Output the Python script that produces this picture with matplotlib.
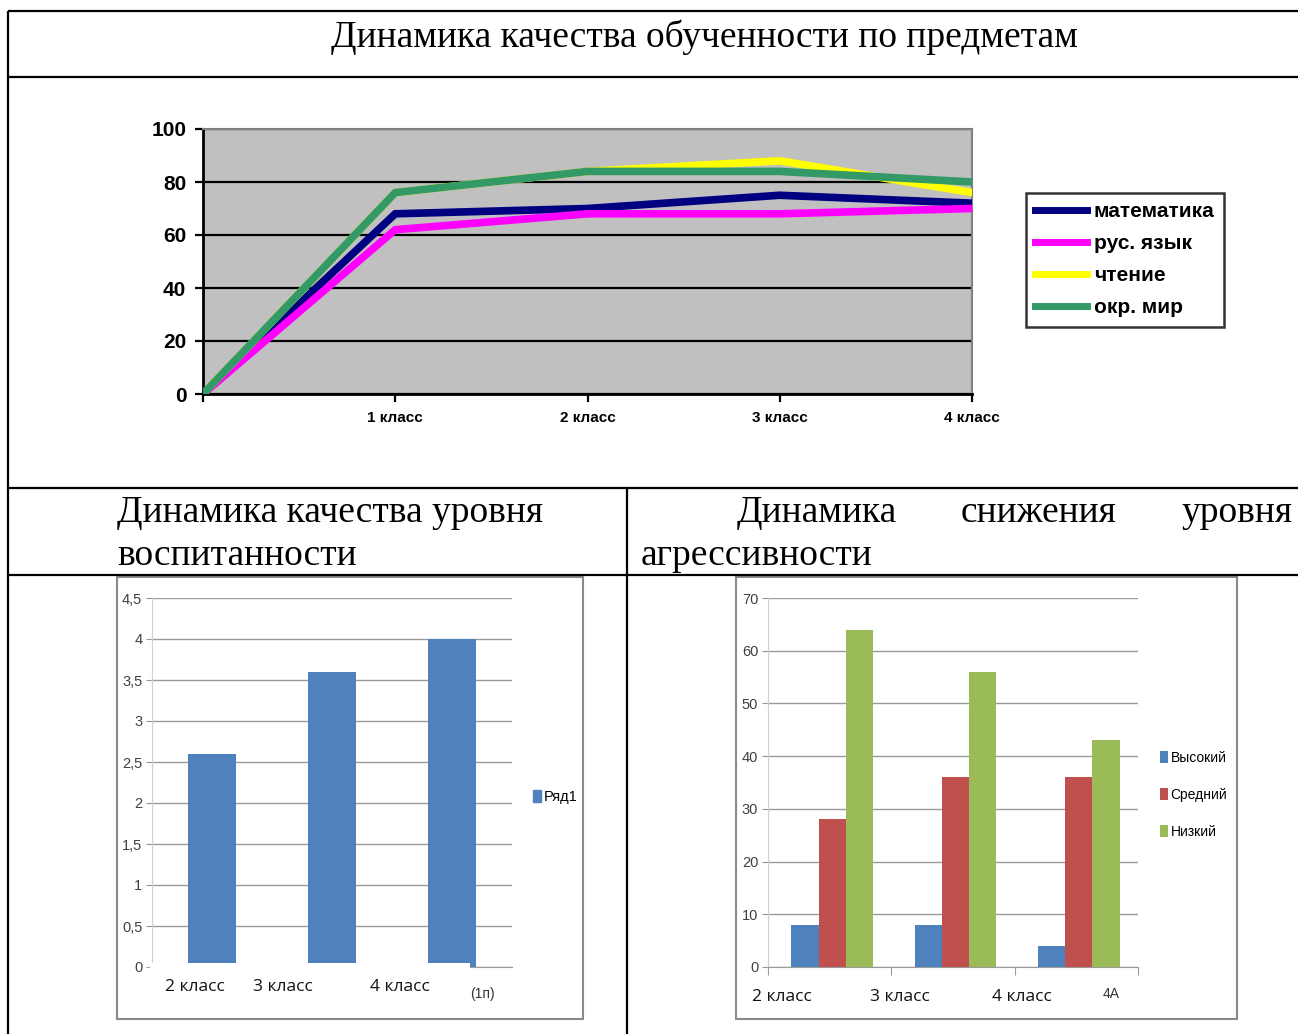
import matplotlib
matplotlib.use("Agg")
import matplotlib.pyplot as plt
import numpy as np
from matplotlib.patches import Rectangle, Patch

# ---------------- data ----------------
grades_top = ["", "1 класс", "2 класс", "3 класс", "4 класс"]
math_vals = [0, 68, 70, 75, 72]
rus_vals = [0, 62, 68, 68, 70]
read_vals = [0, 76, 84, 88, 76]
world_vals = [0, 76, 84, 84, 80]
subjects = ["математика", "рус. язык", "чтение", "окр. мир"]

upbr_cats = ["2 класс", "3 класс", "4 класс"]
upbr_vals = [2.6, 3.6, 4.0]
upbr_series = "Ряд1"

aggr_cats = ["2 класс", "3 класс", "4 класс"]
aggr_high = [8, 8, 4]
aggr_mid = [28, 36, 36]
aggr_low = [64, 56, 43]
aggr_names = ["Высокий", "Средний", "Низкий"]

W, H = 1298, 1034
fig = plt.figure(figsize=(W / 100, H / 100), dpi=100)
fig.patch.set_facecolor("white")

def box(x0, y0, x1, y1):
    return [x0 / W, 1 - y1 / H, (x1 - x0) / W, (y1 - y0) / H]

# background axes for table lines and text
bg = fig.add_axes([0, 0, 1, 1], zorder=0)
bg.set_xlim(0, W)
bg.set_ylim(H, 0)
bg.axis("off")

lk = dict(color="black", lw=1.6, solid_capstyle="butt")
bg.plot([8, W], [11, 11], **lk)
bg.plot([8, W], [77, 77], **lk)
bg.plot([8, W], [488, 488], **lk)
bg.plot([8, W], [575, 575], **lk)
bg.plot([8, 8], [11, H], **lk)
bg.plot([627, 627], [488, H], **lk)

serif = ["Liberation Serif", "DejaVu Serif"]
fs_h = 27
bg.text(704, 37, "Динамика качества обученности по предметам", family=serif,
        fontsize=fs_h, ha="center", va="center")
bg.text(117, 513, "Динамика качества уровня", family=serif, fontsize=fs_h,
        ha="left", va="center")
bg.text(117, 556, "воспитанности", family=serif, fontsize=fs_h, ha="left", va="center")
bg.text(737, 513, "Динамика", family=serif, fontsize=fs_h, ha="left", va="center")
bg.text(1039, 513, "снижения", family=serif, fontsize=fs_h, ha="center", va="center")
bg.text(1293, 513, "уровня", family=serif, fontsize=fs_h, ha="right", va="center")
bg.text(641, 556, "агрессивности", family=serif, fontsize=fs_h, ha="left", va="center")

# chart frames for the lower charts
bg.add_patch(Rectangle((117, 577), 466, 442, fill=False, ec="#8a8a8a", lw=1.5))
bg.add_patch(Rectangle((736, 577), 501, 442, fill=False, ec="#8a8a8a", lw=1.5))

# ---------------- top line chart ----------------
sans = ["Liberation Sans", "DejaVu Sans"]
ax1 = fig.add_axes(box(203, 129, 972, 394), zorder=2)
ax1.set_facecolor("#C0C0C0")
x = np.arange(len(grades_top))
colors_top = ["#000080", "#FF00FF", "#FFFF00", "#339966"]
for vals, c, name in zip([math_vals, rus_vals, read_vals, world_vals], colors_top, subjects):
    ax1.plot(x, vals, color=c, lw=5.5, label=name, solid_joinstyle="miter", zorder=3)
ax1.set_xlim(0, 4)
ax1.set_ylim(0, 100)
ax1.set_yticks(range(0, 101, 20))
ax1.set_xticks(x)
ax1.set_xticklabels(grades_top, fontweight="bold", fontsize=11, family=sans)
for lab in ax1.get_yticklabels():
    lab.set_fontweight("bold"); lab.set_fontsize(15); lab.set_family(sans)
ax1.grid(axis="y", color="black", lw=1.6, zorder=1)
ax1.set_axisbelow(True)
for s in ["top", "right"]:
    ax1.spines[s].set_color("#808080")
    ax1.spines[s].set_linewidth(1.5)
for s in ["left", "bottom"]:
    ax1.spines[s].set_color("black")
    ax1.spines[s].set_linewidth(2)
ax1.tick_params(axis="both", direction="out", length=6, width=1.6, color="black")
ax1.tick_params(axis="x", pad=6)
ax1.tick_params(axis="y", pad=6)
leg = ax1.legend(loc="upper left", bbox_to_anchor=(1026 / W, 1 - 193 / H),
                 bbox_transform=fig.transFigure, borderaxespad=0, frameon=True,
                 fancybox=False, edgecolor="black", handlelength=2.5,
                 handletextpad=0.3, labelspacing=0.62, borderpad=0.45,
                 prop=dict(family=sans, weight="bold", size=15))
leg.get_frame().set_linewidth(1.8)
for h in leg.get_lines():
    h.set_linewidth(5)

# ---------------- lower-left bar chart ----------------
narrow = ["Liberation Sans Narrow", "Liberation Sans", "DejaVu Sans"]
ax2 = fig.add_axes(box(152, 598, 512, 967), zorder=2)
xb = np.arange(len(upbr_cats))
ax2.bar(xb, upbr_vals, width=0.4, color="#4F81BD", zorder=3, label=upbr_series)
ax2.set_xlim(-0.5, 2.5)
ax2.set_ylim(0, 4.5)
yt = np.arange(0, 4.51, 0.5)
ax2.set_yticks(yt)
ax2.set_yticklabels([("%g" % v).replace(".", ",") for v in yt], family=narrow,
                    fontsize=10.5, color="#404040")
ax2.set_xticks([])
ax2.grid(axis="y", color="#9a9a9a", lw=1.0, zorder=1)
ax2.set_axisbelow(True)
for s in ["top", "right"]:
    ax2.spines[s].set_visible(False)
ax2.spines["left"].set_color("#d0d0d0")
ax2.spines["bottom"].set_color("#9a9a9a")
ax2.tick_params(axis="y", length=4, color="#9a9a9a", pad=3)
# white label box covering part of the axis
bg2 = fig.add_axes([0, 0, 1, 1], zorder=4)
bg2.set_xlim(0, W); bg2.set_ylim(H, 0); bg2.axis("off")
bg2.add_patch(Rectangle((150, 963), 320, 45, fc="white", ec="none"))
csans = ["Open Sans", "DejaVu Sans"]
for lbl, px in zip(upbr_cats, [195, 283, 400]):
    bg2.text(px, 987, lbl, family=csans, fontsize=12.5, ha="center", va="center", color="#111")
bg2.text(482, 994, "(1п)", family=narrow, fontsize=10, ha="center", va="center", color="#333")
ax2.legend(handles=[Patch(color="#4F81BD", label=upbr_series)], loc="center left",
           bbox_to_anchor=(533 / W, 1 - 797 / H), bbox_transform=fig.transFigure,
           frameon=False, handlelength=0.55, handleheight=0.9, handletextpad=0.2,
           borderaxespad=0, borderpad=0, prop=dict(family=narrow, size=10.5))

# ---------------- lower-right grouped bar chart ----------------
ax3 = fig.add_axes(box(768, 598, 1138, 967), zorder=2)
xg = np.arange(len(aggr_cats))
bw = 0.22
cols3 = ["#4F81BD", "#C0504D", "#9BBB59"]
for i, (vals, c, nm) in enumerate(zip([aggr_high, aggr_mid, aggr_low], cols3, aggr_names)):
    ax3.bar(xg + (i - 1) * bw + 0.02, vals, width=bw, color=c, label=nm, zorder=3)
ax3.set_xlim(-0.5, 2.5)
ax3.set_ylim(0, 70)
ax3.set_yticks(range(0, 71, 10))
ax3.set_yticklabels([str(v) for v in range(0, 71, 10)], family=narrow, fontsize=10.5,
                    color="#404040")
ax3.set_xticks([-0.5, 0.5, 1.5, 2.5])
ax3.set_xticklabels([])
ax3.tick_params(axis="x", length=6, color="#9a9a9a")
ax3.tick_params(axis="y", length=4, color="#9a9a9a", pad=3)
ax3.grid(axis="y", color="#9a9a9a", lw=1.0, zorder=1)
ax3.set_axisbelow(True)
for s in ["top", "right"]:
    ax3.spines[s].set_visible(False)
ax3.spines["left"].set_color("#d0d0d0")
ax3.spines["bottom"].set_color("#9a9a9a")
for lbl, px in zip(aggr_cats, [782, 900, 1022]):
    bg2.text(px, 997, lbl, family=csans, fontsize=12.5, ha="center", va="center", color="#111")
bg2.text(1111, 994, "4А", family=narrow, fontsize=10, ha="center", va="center", color="#333")
ax3.legend(loc="upper left", bbox_to_anchor=(1160 / W, 1 - 751 / H),
           bbox_transform=fig.transFigure, frameon=False, handlelength=0.55,
           handleheight=0.9, handletextpad=0.2, labelspacing=1.65, borderaxespad=0,
           borderpad=0, prop=dict(family=narrow, size=10))

fig.savefig("out.png", dpi=100)
